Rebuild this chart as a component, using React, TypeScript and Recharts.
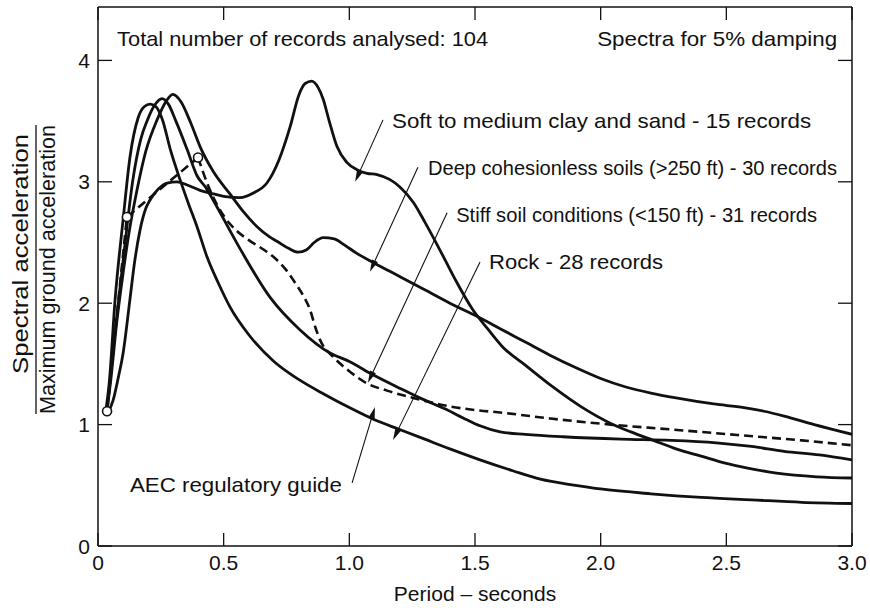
import React from 'react';
import { LineChart, Line, XAxis, YAxis, ReferenceLine, ReferenceDot } from 'recharts';

const FONT = '"Liberation Sans", Arial, Helvetica, sans-serif';
const INK = '#111';

type Pt = { t: number; v: number };
const pts = (rows: number[][]): Pt[] => rows.map(([t, v]) => ({ t, v }));

// Axis ticks
const periodTicks = [0, 0.5, 1, 1.5, 2, 2.5, 3];
const periodTickLabels = ['0', '0.5', '1.0', '1.5', '2.0', '2.5', '3.0'];
const ratioTicks = [0, 1, 2, 3, 4];
const ratioTickLabels = ['0', '1', '2', '3', '4'];

// Average normalised spectra (period in s, Sa / amax)
const softClay = pts([
  [0.04, 1.1], [0.06, 1.2], [0.08, 1.38], [0.1, 1.59], [0.127, 2.03], [0.145, 2.33],
  [0.167, 2.6], [0.19, 2.78], [0.207, 2.85], [0.24, 2.94], [0.275, 2.99], [0.314, 3.0],
  [0.36, 2.97], [0.406, 2.93], [0.46, 2.9], [0.5, 2.88], [0.565, 2.87], [0.62, 2.91],
  [0.672, 2.99], [0.72, 3.18], [0.764, 3.45], [0.8, 3.72], [0.825, 3.81], [0.85, 3.83],
  [0.875, 3.78], [0.896, 3.68], [0.92, 3.5], [0.951, 3.29], [0.99, 3.16], [1.03, 3.1],
  [1.07, 3.07], [1.11, 3.06], [1.16, 3.02], [1.2, 2.96], [1.255, 2.83], [1.3, 2.67],
  [1.36, 2.44], [1.42, 2.2], [1.49, 1.95], [1.55, 1.79], [1.61, 1.64], [1.7, 1.49],
  [1.81, 1.31], [1.92, 1.15], [2.04, 1.01], [2.12, 0.94], [2.21, 0.87], [2.3, 0.8],
  [2.4, 0.74], [2.5, 0.68], [2.59, 0.64], [2.7, 0.6], [2.86, 0.57], [3.0, 0.56],
]);

const deepCohesionless = pts([
  [0.035, 1.1], [0.05, 1.35], [0.075, 1.85], [0.1, 2.25], [0.125, 2.6], [0.155, 2.93],
  [0.19, 3.25], [0.235, 3.51], [0.27, 3.66], [0.298, 3.72], [0.33, 3.66], [0.37, 3.48],
  [0.406, 3.29], [0.46, 3.08], [0.525, 2.9], [0.58, 2.75], [0.633, 2.63], [0.68, 2.55],
  [0.712, 2.51], [0.76, 2.45], [0.796, 2.42], [0.83, 2.44], [0.86, 2.5], [0.896, 2.54],
  [0.94, 2.53], [0.98, 2.48], [1.03, 2.41], [1.1, 2.33], [1.2, 2.22], [1.3, 2.11],
  [1.4, 2.0], [1.51, 1.89], [1.6, 1.79], [1.7, 1.68], [1.8, 1.57], [1.9, 1.47],
  [2.0, 1.38], [2.1, 1.31], [2.2, 1.26], [2.3, 1.22], [2.45, 1.17], [2.57, 1.14],
  [2.65, 1.11], [2.73, 1.07], [2.85, 1.0], [3.0, 0.92],
]);

const stiffSoil = pts([
  [0.035, 1.1], [0.05, 1.4], [0.07, 1.8], [0.1, 2.35], [0.139, 3.02], [0.17, 3.35],
  [0.195, 3.5], [0.225, 3.63], [0.255, 3.685], [0.28, 3.64], [0.31, 3.5], [0.354, 3.27],
  [0.394, 3.05], [0.43, 2.95], [0.458, 2.85], [0.565, 2.45], [0.684, 2.05], [0.804, 1.78],
  [0.923, 1.59], [1.0, 1.52], [1.094, 1.41], [1.2, 1.3], [1.28, 1.22], [1.38, 1.13],
  [1.468, 1.04], [1.52, 0.99], [1.6, 0.94], [1.7, 0.92], [1.85, 0.9], [2.08, 0.88],
  [2.28, 0.87], [2.46, 0.85], [2.6, 0.82], [2.73, 0.78], [2.87, 0.75], [3.0, 0.71],
]);

const rock = pts([
  [0.03, 1.1], [0.045, 1.35], [0.068, 2.03], [0.1, 2.69], [0.127, 3.2], [0.16, 3.53],
  [0.185, 3.62], [0.207, 3.64], [0.23, 3.62], [0.255, 3.52], [0.29, 3.25], [0.326, 3.02],
  [0.36, 2.82], [0.394, 2.63], [0.434, 2.38], [0.48, 2.16], [0.525, 1.97], [0.6, 1.74],
  [0.7, 1.52], [0.8, 1.37], [0.9, 1.25], [1.0, 1.14], [1.1, 1.04], [1.2, 0.96],
  [1.3, 0.88], [1.4, 0.8], [1.52, 0.71], [1.65, 0.62], [1.76, 0.55], [1.9, 0.5],
  [2.0, 0.47], [2.2, 0.43], [2.4, 0.4], [2.6, 0.38], [2.8, 0.36], [3.0, 0.35],
]);

// AEC regulatory guide: straight segments up to the control points, then a smooth decay
const aecKnee = pts([[0.036, 1.11], [0.115, 2.71], [0.398, 3.2]]);
const aecTail = pts([
  [0.398, 3.2], [0.446, 2.93], [0.5, 2.72], [0.55, 2.6], [0.6, 2.52], [0.66, 2.44],
  [0.71, 2.36], [0.75, 2.27], [0.79, 2.15], [0.82, 2.05], [0.843, 1.95], [0.865, 1.8],
  [0.883, 1.7], [0.935, 1.56], [1.0, 1.44], [1.07, 1.34], [1.15, 1.28], [1.254, 1.22],
  [1.4, 1.15], [1.5, 1.12], [1.6, 1.1], [1.8, 1.05], [2.04, 1.0], [2.28, 0.96],
  [2.57, 0.91], [2.8, 0.87], [3.0, 0.83],
]);

// Leader lines: label end -> arrow tip on the curve
const leaders = [
  { from: { t: 1.134, v: 3.51 }, to: { t: 1.023, v: 3.0 } },
  { from: { t: 1.273, v: 3.12 }, to: { t: 1.082, v: 2.26 } },
  { from: { t: 1.389, v: 2.745 }, to: { t: 1.074, v: 1.344 } },
  { from: { t: 1.52, v: 2.34 }, to: { t: 1.174, v: 0.874 } },
  { from: { t: 1.011, v: 0.52 }, to: { t: 1.102, v: 1.146 } },
];

// Annotation texts (anchor in data units, rendered width in px)
const notes = [
  { text: 'Total number of records analysed: 104', t: 0.076, v: 4.12, w: 371 },
  { text: 'Spectra for 5% damping', t: 1.986, v: 4.12, w: 240 },
  { text: 'Soft to medium clay and sand - 15 records', t: 1.17, v: 3.446, w: 419 },
  { text: 'Deep cohesionless soils (>250 ft) - 30 records', t: 1.313, v: 3.06, w: 409 },
  { text: 'Stiff soil conditions (<150 ft) - 31 records', t: 1.425, v: 2.67, w: 361 },
  { text: 'Rock - 28 records', t: 1.556, v: 2.284, w: 174 },
  { text: 'AEC regulatory guide', t: 0.127, v: 0.445, w: 212 },
];

const textStyle = { fontFamily: FONT, fontSize: 21, fill: INK };

const BottomTick = (p: any) => {
  const i = periodTicks.indexOf(p.payload.value);
  return (
    <g>
      <line x1={p.x} x2={p.x} y1={p.y} y2={p.y - 13} stroke={INK} strokeWidth={1.3} />
      <text x={p.x} y={p.y + 24} textAnchor="middle" {...textStyle}>
        {periodTickLabels[i]}
      </text>
    </g>
  );
};

const TopTick = (p: any) => (
  <line x1={p.x} x2={p.x} y1={p.y} y2={p.y + 13} stroke={INK} strokeWidth={1.3} />
);

const LeftTick = (p: any) => {
  const i = ratioTicks.indexOf(p.payload.value);
  return (
    <g>
      <line x1={p.x} x2={p.x + 14} y1={p.y} y2={p.y} stroke={INK} strokeWidth={1.3} />
      <text x={p.x - 8} y={p.y + 7.5} textAnchor="end" {...textStyle}>
        {ratioTickLabels[i]}
      </text>
    </g>
  );
};

const RightTick = (p: any) => (
  <line x1={p.x} x2={p.x - 14} y1={p.y} y2={p.y} stroke={INK} strokeWidth={1.3} />
);

// Two-line ratio title with a fraction bar
const YTitle = () => (
  <g>
    <text transform="translate(28,254) rotate(-90)" textAnchor="middle" textLength={240}
      lengthAdjust="spacingAndGlyphs" {...textStyle} fontSize={22.5}>
      Spectral acceleration
    </text>
    <line x1={36} x2={36} y1={125} y2={414} stroke={INK} strokeWidth={1.3} />
    <text transform="translate(55,269.5) rotate(-90)" textAnchor="middle" textLength={289}
      lengthAdjust="spacingAndGlyphs" {...textStyle} fontSize={21.5}>
      Maximum ground acceleration
    </text>
  </g>
);

const XTitle = () => (
  <text x={475} y={601} textAnchor="middle" {...textStyle}>
    Period – seconds
  </text>
);

const arrowShape = (p: any) => {
  const { x1, y1, x2, y2 } = p;
  const dx = x2 - x1;
  const dy = y2 - y1;
  const len = Math.hypot(dx, dy) || 1;
  const ux = dx / len;
  const uy = dy / len;
  const L = 12;
  const W = 3.2;
  const bx = x2 - ux * L;
  const by = y2 - uy * L;
  const head = `${x2},${y2} ${bx - uy * W},${by + ux * W} ${bx + uy * W},${by - ux * W}`;
  return (
    <g>
      <line x1={x1} y1={y1} x2={bx} y2={by} stroke={INK} strokeWidth={1.1} />
      <polygon points={head} fill={INK} />
    </g>
  );
};

const curveProps = {
  type: 'monotone' as const,
  dataKey: 'v',
  stroke: INK,
  strokeWidth: 2.8,
  dot: false,
  activeDot: false,
  isAnimationActive: false,
};

const axisLine = { stroke: INK, strokeWidth: 1.5 };

export default function App() {
  return (
    <div style={{ position: 'absolute', left: 0, top: 0, background: '#fff' }}>
      <LineChart width={870} height={608} margin={{ top: 6, right: 17, bottom: 61, left: 97 }}>
        <XAxis
          xAxisId={0}
          dataKey="t"
          type="number"
          domain={[0, 3]}
          ticks={periodTicks}
          height={1}
          tickSize={0}
          tickMargin={0}
          tickLine={false}
          axisLine={axisLine}
          tick={BottomTick}
          label={{ content: XTitle }}
          allowDataOverflow
        />
        <XAxis
          xAxisId="top"
          orientation="top"
          dataKey="t"
          type="number"
          domain={[0, 3]}
          ticks={periodTicks}
          height={1}
          tickSize={0}
          tickMargin={0}
          tickLine={false}
          axisLine={axisLine}
          tick={TopTick}
          allowDataOverflow
        />
        <YAxis
          yAxisId={0}
          type="number"
          domain={[0, 4.44]}
          ticks={ratioTicks}
          width={1}
          tickSize={0}
          tickMargin={0}
          tickLine={false}
          axisLine={axisLine}
          tick={LeftTick}
          label={{ content: YTitle }}
          allowDataOverflow
        />
        <YAxis
          yAxisId="right"
          orientation="right"
          type="number"
          domain={[0, 4.44]}
          ticks={ratioTicks}
          width={1}
          tickSize={0}
          tickMargin={0}
          tickLine={false}
          axisLine={axisLine}
          tick={RightTick}
          allowDataOverflow
        />

        <Line {...curveProps} data={aecKnee} type="linear" strokeWidth={2.6} strokeDasharray="9 5" />
        <Line {...curveProps} data={aecTail} strokeWidth={2.6} strokeDasharray="9 5" />
        <Line {...curveProps} data={rock} />
        <Line {...curveProps} data={stiffSoil} />
        <Line {...curveProps} data={deepCohesionless} />
        <Line {...curveProps} data={softClay} />

        {leaders.map((l, i) => (
          <ReferenceLine
            key={`leader-${i}`}
            segment={[{ x: l.from.t, y: l.from.v }, { x: l.to.t, y: l.to.v }]}
            shape={arrowShape}
            ifOverflow="visible"
          />
        ))}

        {aecKnee.map((p, i) => (
          <ReferenceDot
            key={`knee-${i}`}
            x={p.t}
            y={p.v}
            r={4.5}
            fill="#fff"
            stroke={INK}
            strokeWidth={1.6}
            ifOverflow="visible"
          />
        ))}

        {notes.map((n, i) => (
          <ReferenceDot
            key={`note-${i}`}
            x={n.t}
            y={n.v}
            r={0}
            ifOverflow="visible"
            shape={(p: any) => (
              <text x={p.cx} y={p.cy} textLength={n.w} lengthAdjust="spacingAndGlyphs" {...textStyle}>
                {n.text}
              </text>
            )}
          />
        ))}
      </LineChart>
    </div>
  );
}
